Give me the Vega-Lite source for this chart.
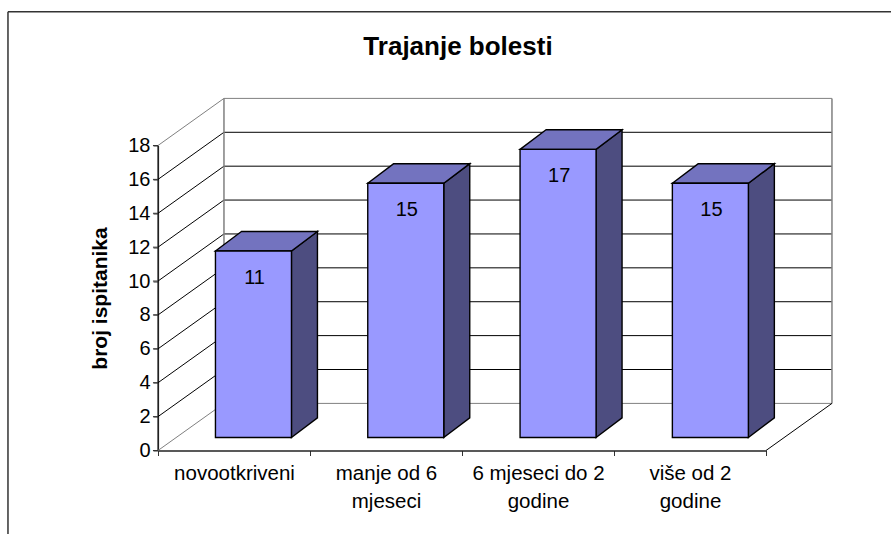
{"$schema":"https://vega.github.io/schema/vega-lite/v6.json","width":608,"height":305,"autosize":"none","padding":{"left":158,"top":145.5,"right":125,"bottom":83.5},"background":"white","config":{"view":{"stroke":null},"font":"Liberation Sans","text":{"font":"Liberation Sans"}},"title":{"text":"Trajanje bolesti","font":"Liberation Sans","fontSize":26,"fontWeight":"bold","color":"#000000","anchor":"middle","dx":-4,"offset":0,"dy":49},"datasets":{"bars":[{"category":"novootkriveni","value":11},{"category":"manje od 6 mjeseci","value":15},{"category":"6 mjeseci do 2 godine","value":17},{"category":"više od 2 godine","value":15}],"levels":[{"level":0},{"level":2},{"level":4},{"level":6},{"level":8},{"level":10},{"level":12},{"level":14},{"level":16},{"level":18}]},"resolve":{"scale":{"x":"independent"},"axis":{"y":"independent"}},"layer":[{"data":{"name":"bars"},"mark":{"type":"bar","opacity":0},"encoding":{"x":{"field":"category","type":"nominal","sort":null,"title":null,"scale":{"paddingInner":0,"paddingOuter":0},"axis":{"labelAngle":0,"labelFont":"Liberation Sans","labelFontSize":20.5,"labelColor":"#000000","labelPadding":8,"labelLimit":200,"labelLineHeight":28,"tickBand":"extent","tickColor":"#333333","tickSize":5,"domainColor":"#222222","domainWidth":1.5,"labelExpr":"{'manje od 6 mjeseci':['manje od 6','mjeseci'],'6 mjeseci do 2 godine':['6 mjeseci do 2','godine'],'više od 2 godine':['više od 2','godine']}[datum.label]||datum.label"}},"y":{"field":"value","type":"quantitative","scale":{"domain":[0,18],"nice":false},"title":"broj ispitanika","axis":{"values":[0,2,4,6,8,10,12,14,16,18],"labelOverlap":false,"grid":false,"labelFont":"Liberation Sans","labelFontSize":20,"labelColor":"#000000","labelPadding":3,"ticks":true,"tickColor":"#333333","tickSize":5,"domain":true,"domainColor":"#222222","domainWidth":1.2,"titleFont":"Liberation Sans","titleFontSize":21,"titleFontWeight":"bold","titleColor":"#000000","titlePadding":17}}}},{"layer":[{"data":{"values":[{}]},"mark":{"type":"rule","stroke":"#333333","strokeWidth":1.5},"encoding":{"x":{"datum":-0.987,"type":"quantitative","scale":{"domain":[0,4],"nice":false,"zero":false},"axis":null},"x2":{"datum":4.83},"y":{"datum":25.9,"type":"quantitative","axis":null}}},{"data":{"values":[{}]},"mark":{"type":"rule","stroke":"#333333","strokeWidth":1.5},"encoding":{"x":{"datum":-0.987,"type":"quantitative","axis":null},"y":{"datum":25.9,"type":"quantitative","axis":null},"y2":{"datum":-4.95}}},{"data":{"values":[{}]},"mark":{"type":"rule","stroke":"#222222","strokeWidth":1.2},"encoding":{"x":{"datum":0,"type":"quantitative","axis":null},"y":{"datum":0,"type":"quantitative","axis":null},"y2":{"datum":18}}},{"data":{"name":"levels"},"mark":{"type":"rule","stroke":"#333333","strokeWidth":1},"encoding":{"x":{"datum":-0.033,"type":"quantitative","axis":null},"x2":{"datum":0},"y":{"field":"level","type":"quantitative","axis":null}}},{"data":{"name":"levels"},"transform":[{"calculate":"datum.level+2.78","as":"back"}],"mark":{"type":"rule","strokeWidth":1},"encoding":{"x":{"datum":0,"type":"quantitative","axis":null},"x2":{"datum":0.434},"y":{"field":"level","type":"quantitative","axis":null},"y2":{"field":"back"},"color":{"condition":{"test":"datum.level==0||datum.level==18","value":"#808080"},"value":"#000000"}}},{"data":{"name":"levels"},"transform":[{"calculate":"datum.level+2.78","as":"back"}],"mark":{"type":"rule","strokeWidth":1},"encoding":{"x":{"datum":0.434,"type":"quantitative","axis":null},"x2":{"datum":4.434},"y":{"field":"back","type":"quantitative","axis":null},"color":{"condition":{"test":"datum.level==0||datum.level==18","value":"#808080"},"value":"#000000"}}},{"data":{"values":[{}]},"mark":{"type":"rule","stroke":"#808080","strokeWidth":1.5},"encoding":{"x":{"datum":0.434,"type":"quantitative","axis":null},"y":{"datum":2.78,"type":"quantitative","axis":null},"y2":{"datum":20.78}}},{"data":{"values":[{}]},"mark":{"type":"rule","stroke":"#808080","strokeWidth":1.5},"encoding":{"x":{"datum":4.434,"type":"quantitative","axis":null},"y":{"datum":2.78,"type":"quantitative","axis":null},"y2":{"datum":20.78}}},{"data":{"values":[{}]},"mark":{"type":"rule","stroke":"#000000","strokeWidth":1},"encoding":{"x":{"datum":4,"type":"quantitative","axis":null},"x2":{"datum":4.434},"y":{"datum":0,"type":"quantitative","axis":null},"y2":{"datum":2.78}}},{"data":{"name":"bars"},"transform":[{"calculate":"indexof(['novootkriveni','manje od 6 mjeseci','6 mjeseci do 2 godine','više od 2 godine'],datum.category)","as":"i"},{"calculate":"[0,1]","as":"t"},{"flatten":["t"]},{"calculate":"datum.i*1.002+0.378+0.5+datum.t*0.171","as":"xs"},{"calculate":"0.77+datum.t*1.157","as":"yb"},{"calculate":"datum.value+0.77+datum.t*1.157","as":"yt"}],"mark":{"type":"area","orient":"vertical","fill":"#4D4D80","stroke":"#000000","strokeWidth":1.4},"encoding":{"x":{"field":"xs","type":"quantitative","axis":null},"y":{"field":"yb","type":"quantitative","axis":null},"y2":{"field":"yt"},"detail":{"field":"category"}}},{"data":{"name":"bars"},"transform":[{"calculate":"indexof(['novootkriveni','manje od 6 mjeseci','6 mjeseci do 2 godine','više od 2 godine'],datum.category)","as":"i"},{"calculate":"[0,1]","as":"t"},{"flatten":["t"]},{"calculate":"datum.i*1.002+0.378+datum.t*0.171","as":"xa"},{"calculate":"datum.i*1.002+0.878+datum.t*0.171","as":"xb"},{"calculate":"datum.value+0.77+datum.t*1.157","as":"yt"}],"mark":{"type":"area","orient":"horizontal","fill":"#7373BF","stroke":"#000000","strokeWidth":1.4},"encoding":{"y":{"field":"yt","type":"quantitative","axis":null},"x":{"field":"xa","type":"quantitative","axis":null},"x2":{"field":"xb"},"detail":{"field":"category"}}},{"data":{"name":"bars"},"transform":[{"calculate":"indexof(['novootkriveni','manje od 6 mjeseci','6 mjeseci do 2 godine','više od 2 godine'],datum.category)","as":"i"},{"calculate":"datum.i*1.002+0.378","as":"xa"},{"calculate":"datum.i*1.002+0.878","as":"xb"},{"calculate":"0.77","as":"yb"},{"calculate":"datum.value+0.77","as":"yt"}],"mark":{"type":"rect","fill":"#9999FF","stroke":"#000000","strokeWidth":1.4},"encoding":{"x":{"field":"xa","type":"quantitative","axis":null},"x2":{"field":"xb"},"y":{"field":"yb","type":"quantitative","axis":null},"y2":{"field":"yt"}}},{"data":{"name":"bars"},"transform":[{"calculate":"indexof(['novootkriveni','manje od 6 mjeseci','6 mjeseci do 2 godine','više od 2 godine'],datum.category)","as":"i"},{"calculate":"datum.i*1.002+0.635","as":"xc"},{"calculate":"datum.value-0.8","as":"yc"}],"mark":{"type":"text","font":"Liberation Sans","fontSize":20,"color":"#000000","align":"center","baseline":"middle"},"encoding":{"x":{"field":"xc","type":"quantitative","axis":null},"y":{"field":"yc","type":"quantitative","axis":null},"text":{"field":"value","type":"quantitative"}}}]}]}
